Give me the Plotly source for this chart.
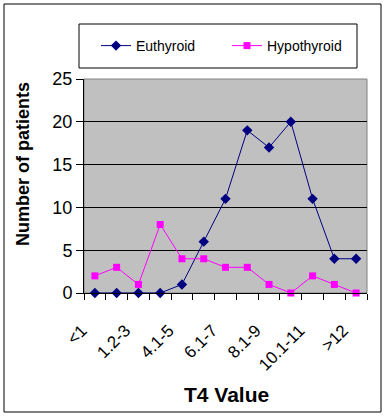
import plotly.graph_objects as go

categories = ["<1", "1-1.1", "1.2-3", "3.1-4", "4.1-5", "5.1-6", "6.1-7",
              "7.1-8", "8.1-9", "9.1-10", "10.1-11", "11.1-12", ">12"]
euthyroid = [0, 0, 0, 0, 1, 6, 11, 19, 17, 20, 11, 4, 4]
hypothyroid = [2, 3, 1, 8, 4, 4, 3, 3, 1, 0, 2, 1, 0]
tick_labels = [c if i % 2 == 0 else "" for i, c in enumerate(categories)]

FONT = "Liberation Sans, Arial, sans-serif"
W, H = 389, 420
L, R, T, B = 84, 22, 79, 127
pw, ph = W - L - R, H - T - B

def px(x):
    return (x - L) / pw

def py(y):
    return (H - B - y) / ph

fig = go.Figure()
fig.add_trace(go.Scatter(
    x=categories, y=euthyroid, name="Euthyroid", mode="lines+markers",
    line=dict(color="#000080", width=1),
    marker=dict(symbol="diamond", size=8, color="#000080"),
    cliponaxis=False,
))
fig.add_trace(go.Scatter(
    x=categories, y=hypothyroid, name="Hypothyroid", mode="lines+markers",
    line=dict(color="#FF00FF", width=1),
    marker=dict(symbol="square", size=7, color="#FF00FF"),
    cliponaxis=False,
))

fig.update_layout(
    width=W, height=H,
    margin=dict(l=L, r=R, t=T, b=B, pad=0, autoexpand=False),
    paper_bgcolor="white",
    plot_bgcolor="#C0C0C0",
    font=dict(family=FONT, color="black"),
    showlegend=True,
    legend=dict(
        orientation="h", x=px(96), xanchor="left", y=py(46), yanchor="middle",
        bgcolor="rgba(0,0,0,0)", borderwidth=0,
        font=dict(family=FONT, size=14, color="black"),
        entrywidth=86, entrywidthmode="pixels",
        tracegroupgap=0,
    ),
    xaxis=dict(
        type="category", automargin=False,
        tickmode="array", tickvals=categories, ticktext=tick_labels,
        tickson="boundaries", ticks="outside", ticklen=6, tickcolor="black",
        tickangle=-45, tickfont=dict(size=17, family=FONT),
        ticklabelstandoff=20, ticklabelshift=-13,
        showgrid=False, showline=True, linecolor="black", linewidth=1,
        range=[-0.5, 12.5],
    ),
    yaxis=dict(
        range=[0, 25], dtick=5, tick0=0, automargin=False,
        ticks="outside", ticklen=7, tickcolor="black",
        tickfont=dict(size=18, family=FONT),
        showgrid=True, gridcolor="black", gridwidth=1,
        showline=True, linecolor="black", linewidth=1,
        zeroline=False,
    ),
    annotations=[
        dict(text="<b>Number of patients</b>", xref="paper", yref="paper",
             x=px(23), y=py(164), xanchor="center", yanchor="middle",
             textangle=-90, showarrow=False,
             font=dict(size=18, family=FONT, color="black")),
        dict(text="<b>T4 Value</b>", xref="paper", yref="paper",
             x=px(226), y=py(394), xanchor="center", yanchor="middle",
             showarrow=False,
             font=dict(size=21, family=FONT, color="black")),
    ],
    shapes=[
        dict(type="rect", xref="paper", yref="paper",
             x0=0, x1=1, y0=0, y1=1,
             line=dict(color="#808080", width=1), layer="below"),
        dict(type="rect", xref="paper", yref="paper",
             x0=px(79), x1=px(357), y0=py(68), y1=py(24),
             line=dict(color="black", width=1), fillcolor="rgba(0,0,0,0)"),
        dict(type="rect", xref="paper", yref="paper",
             x0=px(4), x1=px(381), y0=py(412), y1=py(4),
             line=dict(color="black", width=1), fillcolor="rgba(0,0,0,0)"),
    ],
)

fig.write_html("out.html", config={"displayModeBar": False},
               post_script="document.body.style.margin='0';document.body.style.overflow='hidden';")
